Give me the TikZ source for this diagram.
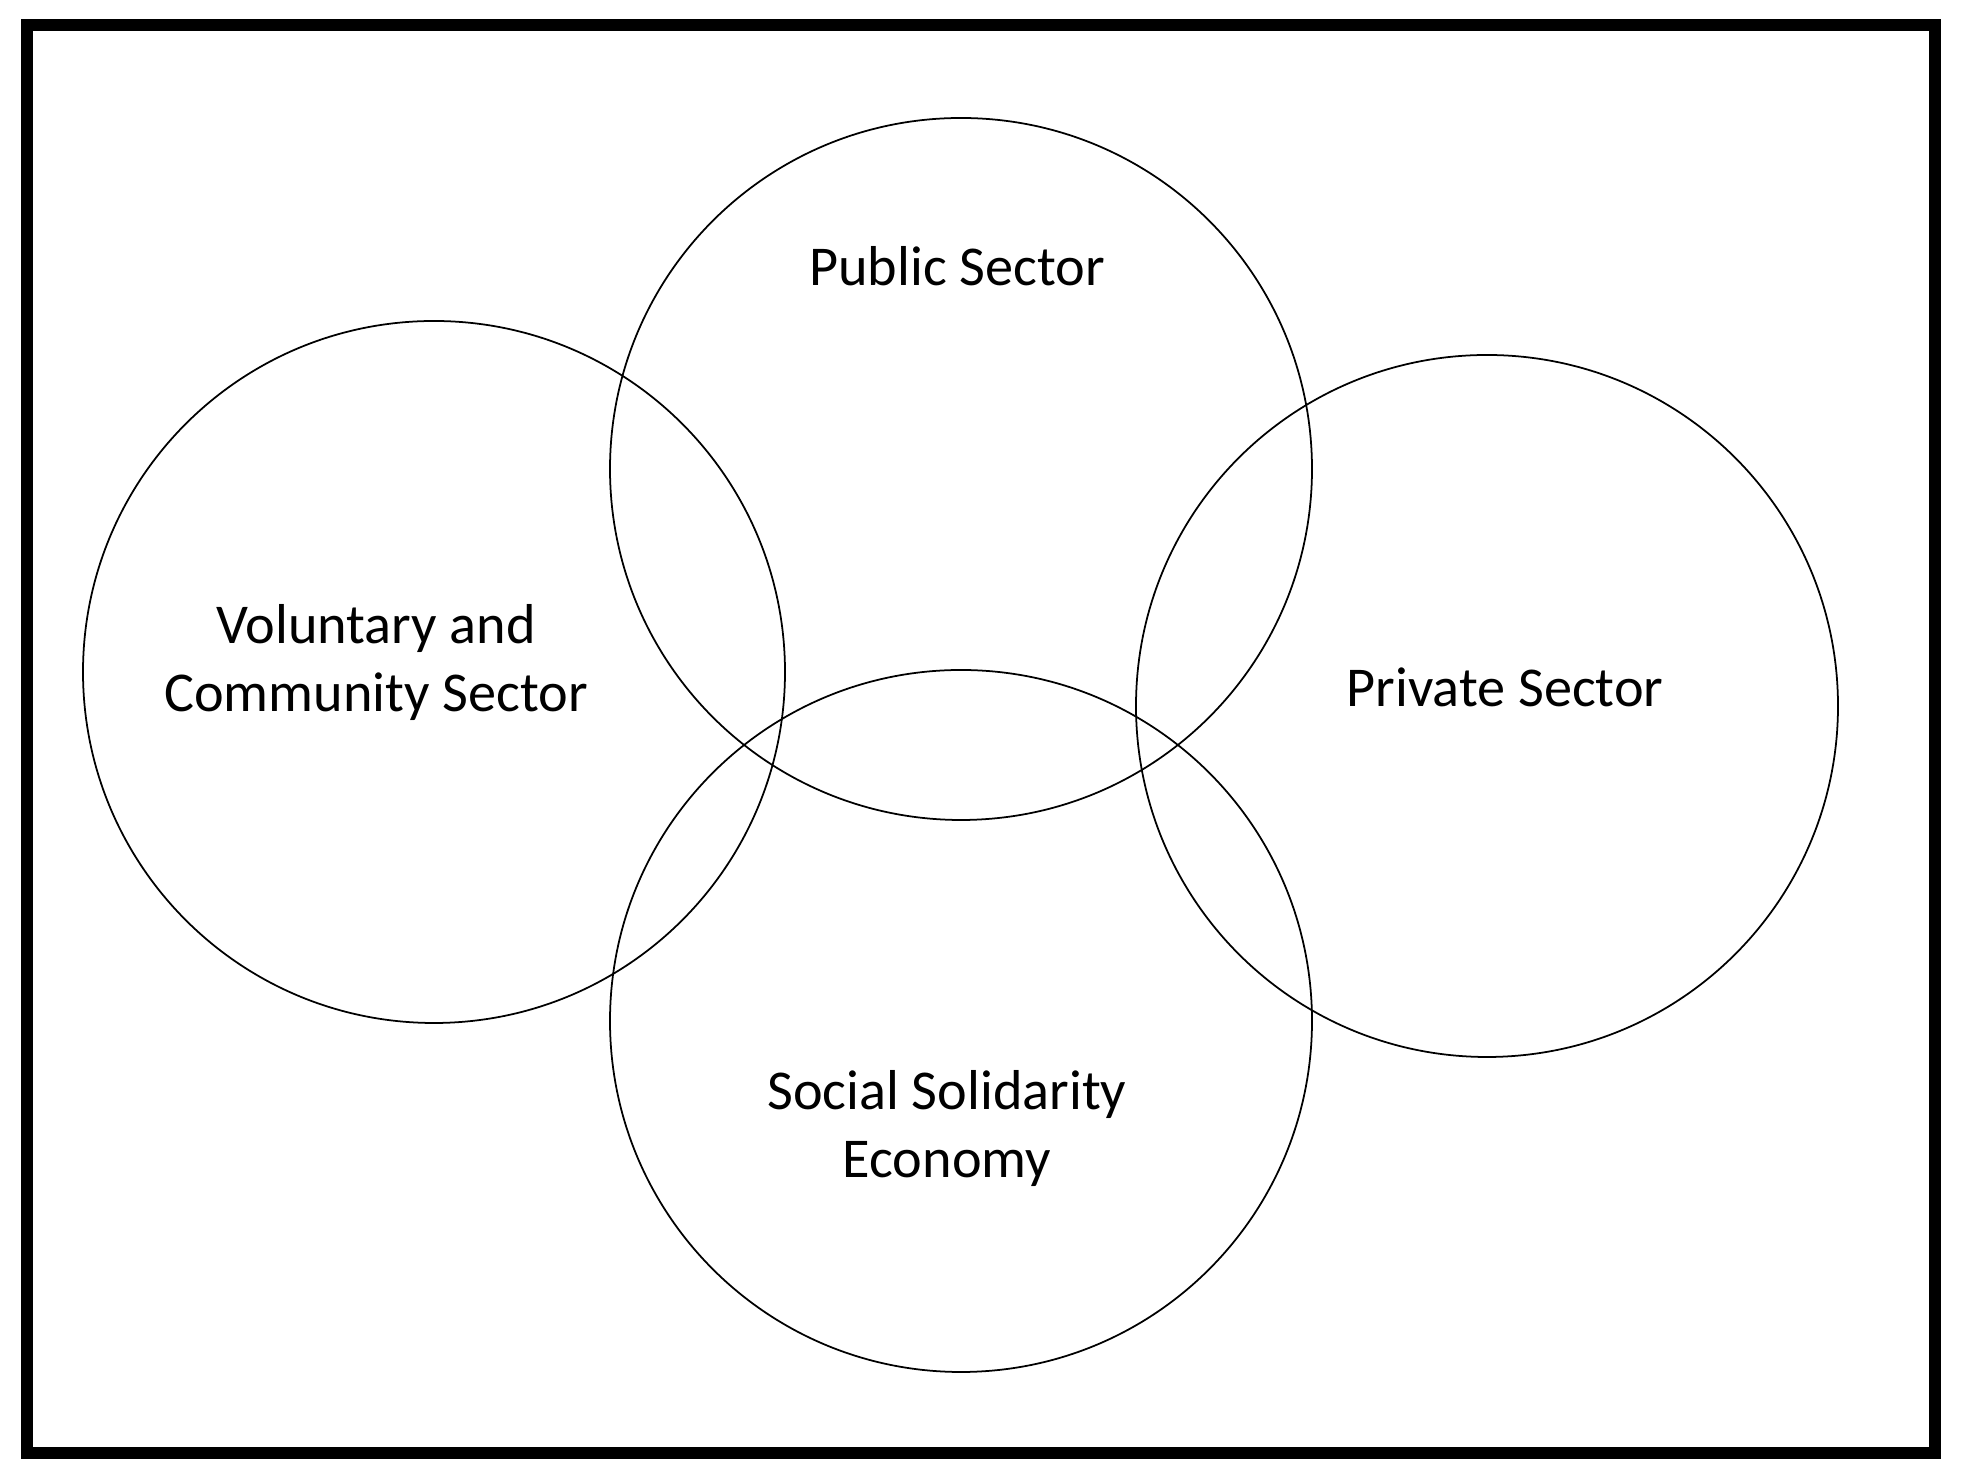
\documentclass[tikz,border=0pt]{standalone}
\usepackage{fontspec}
\setmainfont{Carlito}
\usepackage{tikz}

\begin{document}
\begin{tikzpicture}
  \tikzset{sector/.style={draw,circle,line width=0.5pt,minimum size=7.02cm,inner sep=0pt},
    sectorlabel/.style={anchor=base,align=center,inner sep=0pt,font=\fontsize{16pt}{19.6pt}\selectfont}}
  \useasboundingbox (0,0) rectangle (19.68,14.84);
  \draw[line width=0.12cm] (0.27,0.31) rectangle (19.35,14.59);
  \node[sector] (C-1) at (9.61,10.15) {};
  \node[sector] (C-2) at (4.34,8.12) {};
  \node[sector] (C-3) at (14.87,7.78) {};
  \node[sector] (C-4) at (9.61,4.63) {};
  \node[sectorlabel] (L-1) at (9.57,11.98) {Public Sector};
  \node[sectorlabel] (L-2) at (3.76,7.72) {Voluntary and\\Community Sector};
  \node[sectorlabel] (L-3) at (15.05,7.77) {Private Sector};
  \node[sectorlabel] (L-4) at (9.47,3.06) {Social Solidarity\\Economy};
\end{tikzpicture}
\end{document}
